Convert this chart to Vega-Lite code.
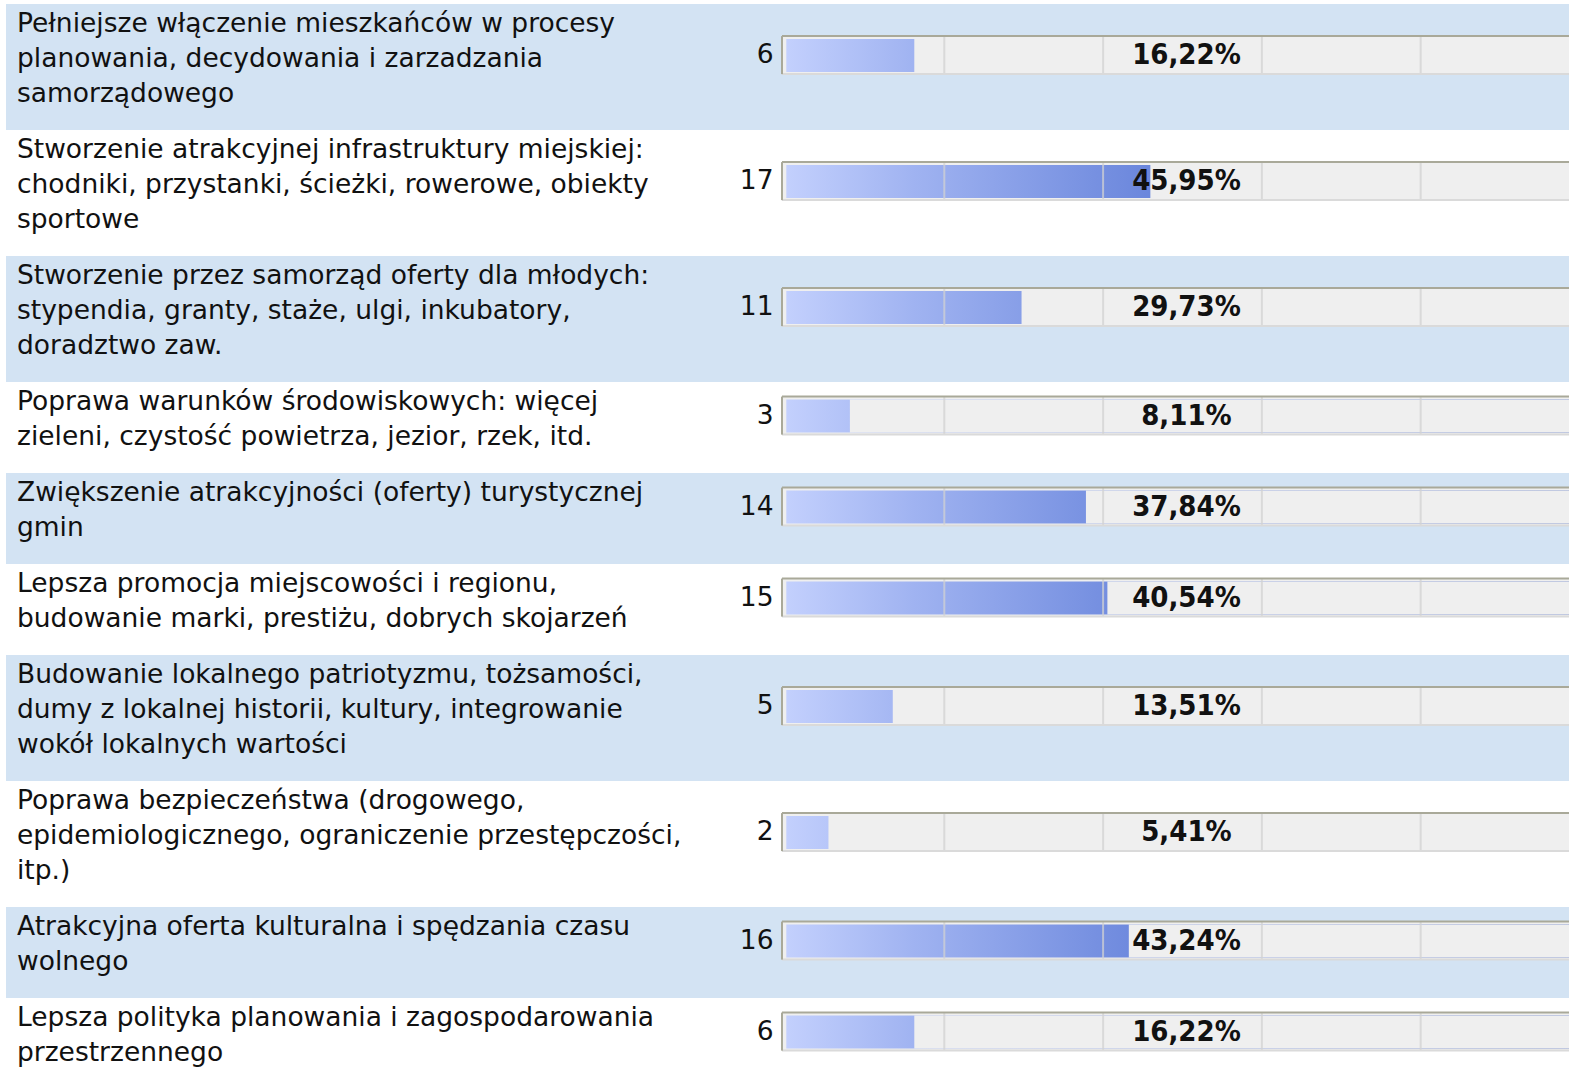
{
  "$schema": "https://vega.github.io/schema/vega-lite/v6.json",
  "autosize": "none",
  "padding": {"left": 6, "top": 4, "right": 0, "bottom": 0},
  "width": 1563,
  "height": 1064,
  "background": "#ffffff",
  "config": {"view": {"stroke": null}},
  "data": {
    "values": [
      {"i": 1, "label": "Pełniejsze włączenie mieszkańców w procesy\nplanowania, decydowania i zarzadzania\nsamorządowego", "count": 6, "share": 0.1622},
      {"i": 2, "label": "Stworzenie atrakcyjnej infrastruktury miejskiej:\nchodniki, przystanki, ścieżki, rowerowe, obiekty\nsportowe", "count": 17, "share": 0.4595},
      {"i": 3, "label": "Stworzenie przez samorząd oferty dla młodych:\nstypendia, granty, staże, ulgi, inkubatory,\ndoradztwo zaw.", "count": 11, "share": 0.2973},
      {"i": 4, "label": "Poprawa warunków środowiskowych: więcej\nzieleni, czystość powietrza, jezior, rzek, itd.", "count": 3, "share": 0.0811},
      {"i": 5, "label": "Zwiększenie atrakcyjności (oferty) turystycznej\ngmin", "count": 14, "share": 0.3784},
      {"i": 6, "label": "Lepsza promocja miejscowości i regionu,\nbudowanie marki, prestiżu, dobrych skojarzeń", "count": 15, "share": 0.4054},
      {"i": 7, "label": "Budowanie lokalnego patriotyzmu, tożsamości,\ndumy z lokalnej historii, kultury, integrowanie\nwokół lokalnych wartości", "count": 5, "share": 0.1351},
      {"i": 8, "label": "Poprawa bezpieczeństwa (drogowego,\nepidemiologicznego, ograniczenie przestępczości,\nitp.)", "count": 2, "share": 0.0541},
      {"i": 9, "label": "Atrakcyjna oferta kulturalna i spędzania czasu\nwolnego", "count": 16, "share": 0.4324},
      {"i": 10, "label": "Lepsza polityka planowania i zagospodarowania\nprzestrzennego", "count": 6, "share": 0.1622}
    ]
  },
  "transform": [
    {"calculate": "length(split(datum.label, '\\n'))", "as": "n"},
    {"calculate": "datum.n + 0.6", "as": "h"},
    {"window": [{"op": "sum", "field": "h", "as": "cum"}], "sort": [{"field": "i", "order": "ascending"}], "frame": [null, 0]},
    {"calculate": "datum.cum - datum.h", "as": "y0"},
    {"calculate": "datum.y0 + 0.086", "as": "ty"},
    {"calculate": "datum.y0 + datum.n / 2 - 0.04", "as": "c"},
    {"calculate": "datum.c - 0.543", "as": "tt"},
    {"calculate": "datum.c + 0.543", "as": "tb"},
    {"calculate": "datum.tt + 0.086", "as": "bt"},
    {"calculate": "datum.tb - 0.057", "as": "bb"},
    {"calculate": "datum.i % 2", "as": "band"},
    {"calculate": "replace(format(datum.share, '.2%'), '.', ',')", "as": "pctLabel"}
  ],
  "layer": [
    {
      "mark": {"type": "rect"},
      "encoding": {
        "x": {"value": 0},
        "x2": {"value": "width"},
        "y": {"field": "y0", "type": "quantitative", "scale": {"domain": [0, 30.4], "reverse": true, "nice": false, "zero": false}, "axis": null},
        "y2": {"field": "cum"},
        "color": {"field": "band", "type": "nominal", "scale": {"domain": [1, 0], "range": ["#d3e3f3", "#ffffff"]}, "legend": null}
      }
    },
    {
      "mark": {"type": "rect", "fill": "#efefef"},
      "encoding": {
        "x": {"datum": -0.0044, "type": "quantitative", "scale": {"domain": [-0.98174, 0.98678], "nice": false, "zero": false}, "axis": null},
        "x2": {"value": "width"},
        "y": {"field": "tt", "type": "quantitative"},
        "y2": {"field": "tb"}
      }
    },
    {
      "mark": {"type": "rect", "clip": true, "color": {"gradient": "linear", "x1": 0, "x2": 1, "y1": 0, "y2": 0, "stops": [{"offset": 0, "color": "#c3d0fd"}, {"offset": 0.16, "color": "#a0b3f1"}, {"offset": 0.46, "color": "#6a86dc"}, {"offset": 1, "color": "#3353b3"}]}},
      "encoding": {
        "x": {"datum": 0.001, "type": "quantitative"},
        "x2": {"datum": 1},
        "y": {"field": "bt", "type": "quantitative"},
        "y2": {"field": "bb"}
      }
    },
    {
      "mark": {"type": "rect", "clip": true, "fill": "#efefef"},
      "encoding": {
        "x": {"field": "share", "type": "quantitative"},
        "x2": {"datum": 1.2},
        "y": {"field": "bt", "type": "quantitative"},
        "y2": {"field": "bb"}
      }
    },
    {
      "mark": {"type": "rule", "stroke": "#d2d2d2", "strokeOpacity": 0.75, "strokeWidth": 2},
      "encoding": {"x": {"datum": 0.2, "type": "quantitative"}, "y": {"field": "tt", "type": "quantitative"}, "y2": {"field": "tb"}}
    },
    {
      "mark": {"type": "rule", "stroke": "#d2d2d2", "strokeOpacity": 0.75, "strokeWidth": 2},
      "encoding": {"x": {"datum": 0.4, "type": "quantitative"}, "y": {"field": "tt", "type": "quantitative"}, "y2": {"field": "tb"}}
    },
    {
      "mark": {"type": "rule", "stroke": "#d2d2d2", "strokeOpacity": 0.75, "strokeWidth": 2},
      "encoding": {"x": {"datum": 0.6, "type": "quantitative"}, "y": {"field": "tt", "type": "quantitative"}, "y2": {"field": "tb"}}
    },
    {
      "mark": {"type": "rule", "stroke": "#d2d2d2", "strokeOpacity": 0.75, "strokeWidth": 2},
      "encoding": {"x": {"datum": 0.8, "type": "quantitative"}, "y": {"field": "tt", "type": "quantitative"}, "y2": {"field": "tb"}}
    },
    {
      "mark": {"type": "rule", "stroke": "#a9a999", "strokeWidth": 2},
      "encoding": {"x": {"datum": -0.0044, "type": "quantitative"}, "x2": {"value": "width"}, "y": {"field": "tt", "type": "quantitative"}}
    },
    {
      "mark": {"type": "rule", "stroke": "#dadada", "strokeWidth": 2},
      "encoding": {"x": {"datum": -0.0044, "type": "quantitative"}, "x2": {"value": "width"}, "y": {"field": "tb", "type": "quantitative"}}
    },
    {
      "mark": {"type": "rule", "stroke": "#a9a999", "strokeWidth": 2},
      "encoding": {"x": {"datum": -0.0044, "type": "quantitative"}, "y": {"field": "tt", "type": "quantitative"}, "y2": {"field": "tb"}}
    },
    {
      "mark": {"type": "text", "align": "left", "baseline": "line-top", "lineBreak": "\n", "lineHeight": 35, "font": "DejaVu Sans", "fontSize": 26.5, "fill": "#111111"},
      "encoding": {
        "x": {"datum": -0.9679, "type": "quantitative"},
        "y": {"field": "ty", "type": "quantitative"},
        "text": {"field": "label", "type": "nominal"}
      }
    },
    {
      "mark": {"type": "text", "align": "right", "baseline": "middle", "font": "DejaVu Sans", "fontSize": 26.5, "fill": "#111111"},
      "encoding": {
        "x": {"datum": -0.0151, "type": "quantitative"},
        "y": {"field": "c", "type": "quantitative"},
        "text": {"field": "count", "type": "nominal"}
      }
    },
    {
      "mark": {"type": "text", "align": "center", "baseline": "middle", "font": "DejaVu Sans Condensed", "fontWeight": "bold", "fontSize": 29, "fill": "#111111"},
      "encoding": {
        "x": {"datum": 0.505, "type": "quantitative"},
        "y": {"field": "c", "type": "quantitative"},
        "text": {"field": "pctLabel", "type": "nominal"}
      }
    }
  ]
}
